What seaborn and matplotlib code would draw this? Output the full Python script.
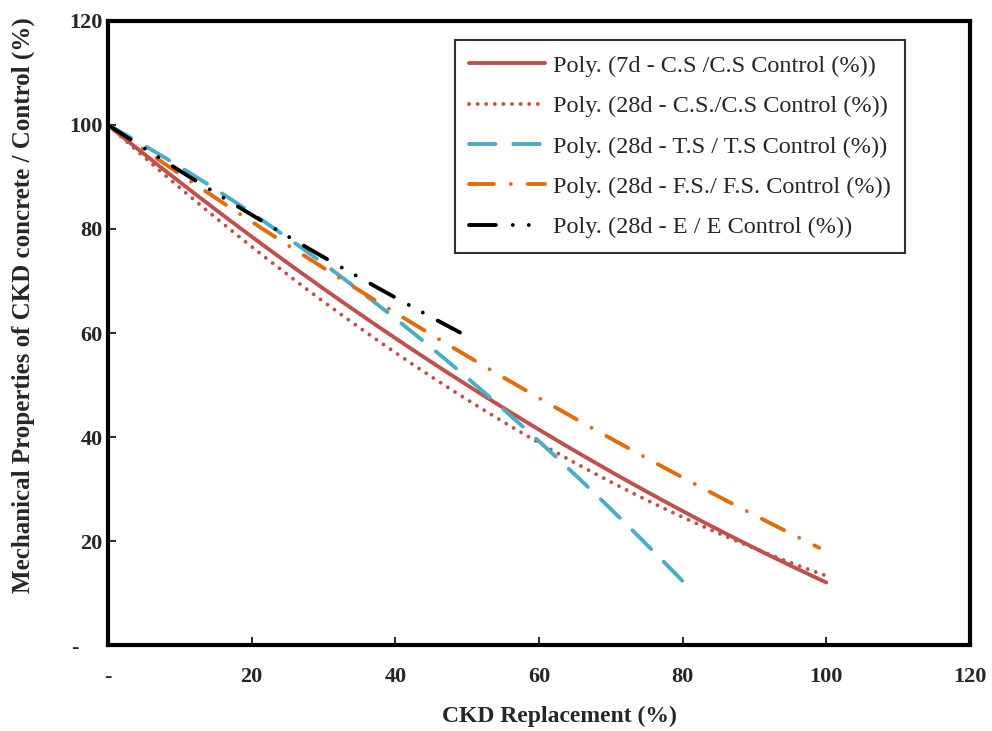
import numpy as np
import pandas as pd
import seaborn as sns
import matplotlib.pyplot as plt

# Trend values (percent of control) at each CKD replacement level
x_cs7 = [0, 20, 40, 60, 80, 100]
y_cs7 = [100, 78.5, 59.0, 41.4, 25.8, 12.0]

x_cs28 = [0, 20, 40, 60, 80, 100]
y_cs28 = [100, 76.6, 56.2, 38.9, 24.6, 13.3]

x_ts28 = [0, 20, 40, 60, 80]
y_ts28 = [100, 83.1, 62.8, 39.1, 12.3]

x_fs28 = [0, 20, 40, 60, 80, 99]
y_fs28 = [100, 81.4, 63.9, 47.5, 32.2, 18.7]

x_e28 = [0, 10, 20, 30, 40, 49]
y_e28 = [100, 91.2, 82.7, 74.6, 66.8, 60.1]

labels = [
    "Poly. (7d - C.S /C.S Control (%))",
    "Poly. (28d - C.S./C.S Control (%))",
    "Poly. (28d - T.S / T.S Control (%))",
    "Poly. (28d - F.S./ F.S. Control (%))",
    "Poly. (28d - E / E Control (%))",
]

x_ticks = [0, 20, 40, 60, 80, 100, 120]
x_ticklabels = ["-", "20", "40", "60", "80", "100", "120"]
y_ticks = [0, 20, 40, 60, 80, 100, 120]
y_ticklabels = ["-    ", "20", "40", "60", "80", "100", "120"]

sns.set_style("white")
plt.rcParams["font.family"] = ["Liberation Serif", "DejaVu Serif"]

fig = plt.figure(figsize=(9.92, 7.31), dpi=100)
ax = fig.add_axes([0.1089, 0.1176, 0.8690, 0.8537])

series = [
    (x_cs7, y_cs7, "#C0504D", (0, ())),
    (x_cs28, y_cs28, "#C0504D", (0, (0.01, 2.2))),
    (x_ts28, y_ts28, "#4BACC6", (0, (6.8, 4.6))),
    (x_fs28, y_fs28, "#E36C09", (0, (6.4, 4.35, 0.01, 4.35))),
    (x_e28, y_e28, "#000000", (0, (6.9, 4.35, 0.01, 4.1, 0.01, 4.35))),
]

for (xs, ys, color, ls), lab in zip(series, labels):
    # second-order polynomial trend through the values
    coef = np.polyfit(xs, ys, 2)
    xx = np.linspace(min(xs), max(xs), 300)
    df = pd.DataFrame({"x": xx, "y": np.polyval(coef, xx)})
    sns.lineplot(data=df, x="x", y="y", ax=ax, color=color, lw=2.8,
                 label=lab, sort=False)
    line = ax.lines[-1]
    if ls[1]:
        line.set_linestyle(ls)
    line.set_dash_capstyle("round")
    line.set_solid_capstyle("round")

ax.set_xlim(0, 120)
ax.set_ylim(0, 120)
ax.set_xticks(x_ticks)
ax.set_xticklabels(x_ticklabels, fontsize=16, fontweight="bold")
ax.set_yticks(y_ticks)
ax.set_yticklabels(y_ticklabels, fontsize=16, fontweight="bold")
ax.tick_params(axis="both", direction="in", length=6, width=1.2,
               color="black", bottom=True, left=True, top=False, right=False)
ax.tick_params(axis="x", pad=16)
ax.tick_params(axis="y", pad=4)

for sp in ax.spines.values():
    sp.set_visible(True)
    sp.set_color("black")
    sp.set_linewidth(3)

ax.set_xlabel("CKD Replacement (%)", fontsize=17, fontweight="bold")
ax.set_ylabel("Mechanical Properties of CKD concrete / Control (%)",
              fontsize=18, fontweight="bold")
ax.xaxis.set_label_coords(0.524, -0.098)
ax.yaxis.set_label_coords(-0.085, 0.545)

leg = ax.legend(loc="upper right", bbox_to_anchor=(0.9246, 0.9696),
                borderaxespad=0, fontsize=17.5, handlelength=3.1,
                labelspacing=0.76, handletextpad=0.33, frameon=True,
                fancybox=False, borderpad=0.6)
leg.get_frame().set_edgecolor("black")
leg.get_frame().set_linewidth(1.5)

fig.savefig("out.png", dpi=100)
